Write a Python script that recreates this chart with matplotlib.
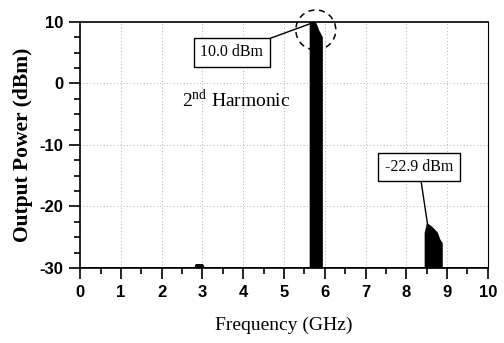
import numpy as np
import matplotlib.pyplot as plt
from matplotlib.patches import Ellipse

# Spectrum trace (GHz, dBm)
freq = [0.0, 2.82, 2.85, 3.0, 3.04, 5.65, 5.65, 5.76, 5.85, 5.93, 5.93,
        8.47, 8.47, 8.52, 8.62, 8.75, 8.82, 8.87, 8.87, 10.0]
power = [-30.0, -30.0, -29.5, -29.5, -30.0, -30.0, 10.0, 10.0, 8.5, 7.5, -30.0,
         -30.0, -24.3, -22.9, -23.4, -24.3, -25.5, -26.0, -30.0, -30.0]

fund_peak = (5.76, 10.0)
harm_peak = (8.52, -22.9)

plt.rcParams['font.family'] = ['Liberation Sans', 'DejaVu Sans']
plt.rcParams['axes.unicode_minus'] = False
plt.rcParams['mathtext.fontset'] = 'custom'
plt.rcParams['mathtext.rm'] = 'Liberation Serif'
serif = 'Liberation Serif'

fig = plt.figure(figsize=(5.04, 3.43), dpi=100)
ax = fig.add_axes([0.159, 0.219, 0.809, 0.717])

ax.fill_between(freq, power, -30, color='black', lw=0)
ax.plot(freq, power, color='black', lw=1.2)

ax.set_xlim(0, 10)
ax.set_ylim(-30, 10)
ax.set_xticks(range(0, 11))
ax.set_xticks(np.arange(0.5, 10, 1.0), minor=True)
ax.set_yticks([-30, -20, -10, 0, 10])
ax.set_yticks(np.arange(-27.5, 10, 2.5), minor=True)
ax.tick_params(which='major', direction='out', length=8, width=1.2,
               labelsize=12, pad=4)
ax.tick_params(which='minor', direction='out', length=4.5, width=1.2)
for lab in ax.get_xticklabels() + ax.get_yticklabels():
    lab.set_fontweight('bold')
for s in ax.spines.values():
    s.set_linewidth(1.2)
ax.spines['right'].set_linewidth(0.8)

ax.grid(True, which='major', linestyle=(0, (1, 3)), color='0.6', lw=0.6)
ax.set_axisbelow(True)

ax.set_xlabel('Frequency (GHz)', family=serif, fontsize=14, labelpad=12)
ax.set_ylabel('Output Power (dBm)', family=serif, fontsize=15.5,
              fontweight='bold', labelpad=5)

box = dict(boxstyle='square,pad=0.4', fc='white', ec='black', lw=1)
ax.annotate('10.0 dBm', xy=fund_peak, xytext=(3.72, 5.05),
            family=serif, fontsize=11.5, ha='center', va='center', bbox=box,
            arrowprops=dict(arrowstyle='-', color='black', lw=1,
                            shrinkA=0, shrinkB=0))
ax.annotate('-22.9 dBm', xy=harm_peak, xytext=(8.31, -13.6),
            family=serif, fontsize=11.5, ha='center', va='center', bbox=box,
            arrowprops=dict(arrowstyle='-', color='black', lw=1,
                            shrinkA=0, shrinkB=0))

ax.text(3.82, -2.7, r'2$^{\rm nd}$ Harmonic', family=serif, fontsize=14,
        ha='center', va='center')

circ = Ellipse((5.78, 8.7), 0.98, 6.5, fill=False, ls=(0, (4, 3)),
               lw=1.1, ec='black', clip_on=False)
ax.add_patch(circ)

fig.savefig('out.png', dpi=100)
